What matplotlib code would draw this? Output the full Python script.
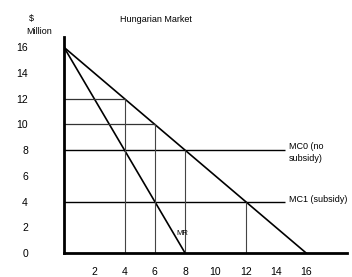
import numpy as np
import matplotlib.pyplot as plt

plt.rcParams['font.family'] = ['Liberation Sans', 'DejaVu Sans']

# demand and marginal revenue (quantity, price)
demand_q = [0, 16]
demand_p = [16, 0]
mr_q = [0, 8]
mr_p = [16, 0]

# marginal cost levels
mc0 = 8
mc1 = 4
mc_end = 14.6

# guide lines: quantity -> price
guide_q = [4, 6, 8, 12]
guide_p = [12, 10, 8, 4]
price_lines = [12, 10]
price_ends = [4, 6]

y_ticks = [0, 2, 4, 6, 8, 10, 12, 14, 16]
x_ticks = [2, 4, 6, 8, 10, 12, 14, 16]

fig = plt.figure(figsize=(3.52, 2.77), dpi=100)
ax = fig.add_axes([64/352, 24/277, 283/352, 216/277])
ax.set_xlim(0, 18.7)
ax.set_ylim(0, 16.8)

ax.plot(demand_q, demand_p, color='black', lw=1.2)
ax.plot(mr_q, mr_p, color='black', lw=1.2)

ax.hlines([mc0, mc1], 0, mc_end, color='black', lw=1.0)
ax.hlines(price_lines, 0, price_ends, color='#333333', lw=0.9)
ax.vlines(guide_q, 0, guide_p, color='#444444', lw=0.8)

ax.text(mc_end + 0.25, mc0 + 0.6, 'MC0 (no\nsubsidy)', fontsize=6.5,
        va='top', ha='left', linespacing=1.3)
ax.text(mc_end + 0.25, mc1 + 0.2, 'MC1 (subsidy)', fontsize=6.5, va='center', ha='left')
ax.text(7.4, 1.5, 'MR', fontsize=5.5, va='center', ha='left')

ax.set_xticks(x_ticks)
ax.set_yticks(y_ticks)
ax.tick_params(length=0, labelsize=7.5)
ax.tick_params(axis='y', pad=26)
ax.tick_params(axis='x', pad=10)

for side in ['top', 'right']:
    ax.spines[side].set_visible(False)
ax.spines['left'].set_linewidth(2)
ax.spines['bottom'].set_linewidth(2)

fig.text(29/352, 1 - 18/277, '$', fontsize=6.5, ha='left', va='center')
fig.text(26/352, 1 - 31/277, 'Million', fontsize=6.5, ha='left', va='center')
fig.text(120/352, 1 - 20/277, 'Hungarian Market', fontsize=6.5, ha='left', va='center')

fig.savefig('out.png', dpi=100)
